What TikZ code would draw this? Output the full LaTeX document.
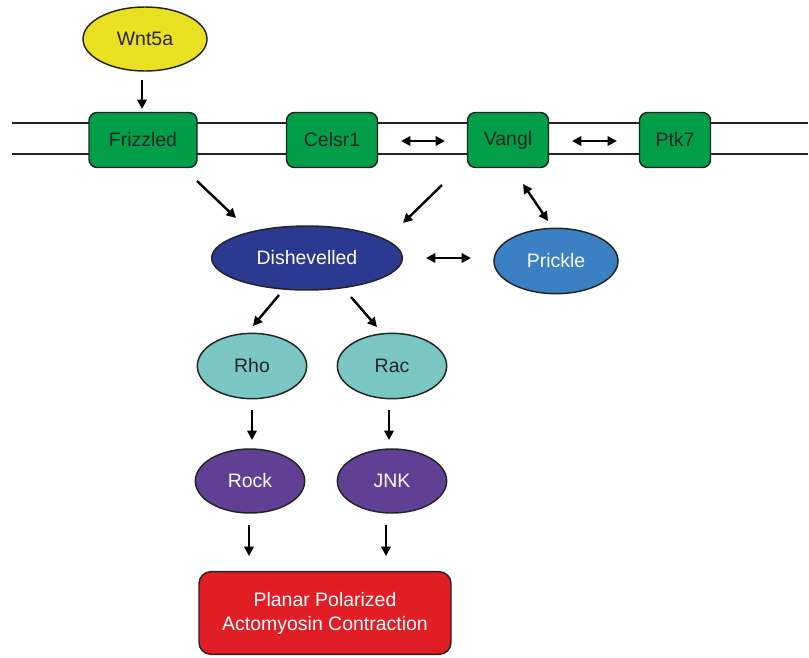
\documentclass[tikz,border=0pt]{standalone}
\usepackage{fontspec}
\setmainfont{Liberation Sans}
\usetikzlibrary{shapes.geometric,arrows.meta}
\definecolor{wntY}{RGB}{232,224,32}
\definecolor{memG}{RGB}{0,158,72}
\definecolor{dshB}{RGB}{43,57,144}
\definecolor{prkB}{RGB}{58,128,194}
\definecolor{rhoT}{RGB}{122,199,196}
\definecolor{rokP}{RGB}{96,64,148}
\definecolor{ppaR}{RGB}{225,30,38}
\definecolor{lineK}{RGB}{35,35,35}
\begin{document}
\begin{tikzpicture}[x=0.75pt,y=-0.75pt,
  every node/.style={font=\fontsize{14.6}{18}\selectfont},
  ell/.style={ellipse,draw=lineK,line width=1.1pt,inner sep=0pt},
  memb/.style={rectangle,rounded corners=6pt,draw=lineK,line width=1.1pt,fill=memG,inner sep=0pt,minimum height=41.25pt,text=black!85},
  arr/.style={line width=1.8pt,-{Triangle[length=7pt,width=7pt]}},
  darr/.style={line width=1.8pt,{Triangle[length=7pt,width=7pt]}-{Triangle[length=7pt,width=7pt]}},
  mline/.style={line width=1.1pt,draw=lineK}]
\useasboundingbox (0,0) rectangle (809,657);
% membrane
\coordinate (m1a) at (12,123);
\coordinate (m1b) at (808,123);
\coordinate (m2a) at (12,154);
\coordinate (m2b) at (808,154);
\draw[mline] (m1a) -- (m1b);
\draw[mline] (m2a) -- (m2b);
% nodes
\node[ell,fill=wntY,minimum width=93pt,minimum height=48pt,text=black!85] (wnt) at (145,39) {Wnt5a};
\node[memb,minimum width=81pt] (fzd) at (143,140) {Frizzled};
\node[memb,minimum width=68.25pt] (cel) at (332,140) {Celsr1};
\node[memb,minimum width=60.75pt] (vang) at (508,140) {Vangl};
\node[memb,minimum width=53.25pt] (ptk) at (675,140) {Ptk7};
\node[ell,fill=dshB,minimum width=143pt,minimum height=48pt,text=white] (dsh) at (307,258) {Dishevelled};
\node[ell,fill=prkB,minimum width=93pt,minimum height=49pt,text=white] (prk) at (556,261) {Prickle};
\node[ell,fill=rhoT,minimum width=82pt,minimum height=49pt,text=black!85] (rho) at (252,366) {Rho};
\node[ell,fill=rhoT,minimum width=82pt,minimum height=49pt,text=black!85] (rac) at (392,366) {Rac};
\node[ell,fill=rokP,minimum width=82pt,minimum height=48pt,text=white] (rock) at (250,481) {Rock};
\node[ell,fill=rokP,minimum width=82pt,minimum height=48pt,text=white] (jnk) at (392,481) {JNK};
\node[rectangle,rounded corners=9pt,draw=lineK,line width=1.1pt,fill=ppaR,text=white,align=center,minimum width=189pt,minimum height=62pt,inner sep=0pt] (ppa) at (325,613) {Planar Polarized\\Actomyosin Contraction};
% connector ends
\coordinate (c1s) at (142,80);  \coordinate (c1e) at (142,109);
\coordinate (c2s) at (401,141); \coordinate (c2e) at (445,141);
\coordinate (c3s) at (572,141); \coordinate (c3e) at (617,141);
\coordinate (c4s) at (197,181); \coordinate (c4e) at (236,218);
\coordinate (c5s) at (442,185); \coordinate (c5e) at (403,223);
\coordinate (c6s) at (523,184); \coordinate (c6e) at (548,221);
\coordinate (c7s) at (426,258); \coordinate (c7e) at (471,258);
\coordinate (c8s) at (279,295); \coordinate (c8e) at (253,326);
\coordinate (c9s) at (351,297); \coordinate (c9e) at (377,327);
\coordinate (c10s) at (252,410); \coordinate (c10e) at (252,440);
\coordinate (c11s) at (389,410); \coordinate (c11e) at (389,440);
\coordinate (c12s) at (249,525); \coordinate (c12e) at (249,556);
\coordinate (c13s) at (386,525); \coordinate (c13e) at (386,556);
% connectors
\draw[arr] (c1s) -- (c1e);
\draw[darr] (c2s) -- (c2e);
\draw[darr] (c3s) -- (c3e);
\draw[arr] (c4s) -- (c4e);
\draw[arr] (c5s) -- (c5e);
\draw[darr] (c6s) -- (c6e);
\draw[darr] (c7s) -- (c7e);
\draw[arr] (c8s) -- (c8e);
\draw[arr] (c9s) -- (c9e);
\draw[arr] (c10s) -- (c10e);
\draw[arr] (c11s) -- (c11e);
\draw[arr] (c12s) -- (c12e);
\draw[arr] (c13s) -- (c13e);
\end{tikzpicture}
\end{document}
